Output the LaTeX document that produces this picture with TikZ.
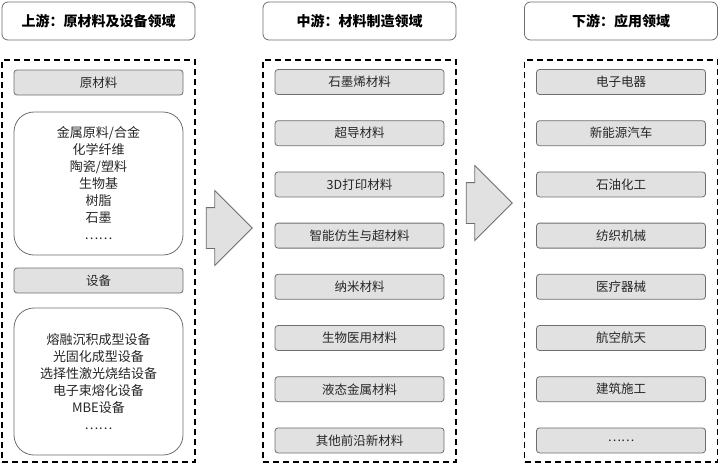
\documentclass[tikz,border=0pt]{standalone}
\usepackage{fontspec}
\setmainfont{Noto Sans CJK SC}
\usetikzlibrary{shapes.arrows,positioning}
\definecolor{boxgray}{RGB}{225,225,225}
\definecolor{linegray}{RGB}{110,110,110}
\tikzset{
  head/.style={draw=linegray, rounded corners=6pt, fill=white, thick, minimum width=193pt, minimum height=38pt, font=\fontsize{14}{16}\selectfont\bfseries},
  group/.style={draw, dash pattern=on 6pt off 4pt, very thick, minimum width=193pt, minimum height=402pt},
  item/.style={draw=linegray, rounded corners=3pt, fill=boxgray, thick, minimum width=169pt, minimum height=25pt, font=\fontsize{12.5}{14}\selectfont, text=black!85},
  list/.style={draw=linegray, rounded corners=20pt, fill=white, thick, minimum width=169pt, align=center, font=\fontsize{13}{17}\selectfont, text=black!85},
  flow/.style={single arrow, draw=linegray, fill=boxgray, thick, inner xsep=0pt, inner ysep=20pt, single arrow head extend=17pt, minimum height=46pt},
}
\begin{document}
\begin{tikzpicture}[x=1pt, y=-1pt]
  \useasboundingbox (0,0) rectangle (720,466);
  % headers
  \node[head] (up) at (98.5,21) {上游：原材料及设备领域};
  \node[head] (mid) at (359.5,21) {中游：材料制造领域};
  \node[head] (down) at (621,21) {下游：应用领域};
  % groups
  \node[group] (gup) at (98.5,261) {};
  \node[group] (gmid) at (359.5,261) {};
  \node[group] (gdown) at (621,261) {};
  % upstream
  \node[item] (raw) at (98.5,82.5) {原材料};
  \node[list, minimum height=143pt] (rawlist) at (98.5,183.5) {金属原料/合金\\化学纤维\\陶瓷/塑料\\生物基\\树脂\\石墨\\……};
  \node[item] (equip) at (98.5,280.5) {设备};
  \node[list, minimum height=147pt] (equiplist) at (98.5,381.5) {熔融沉积成型设备\\光固化成型设备\\选择性激光烧结设备\\电子束熔化设备\\MBE设备\\……};
  % midstream
  \foreach \t [count=\i from 0] in {石墨烯材料,超导材料,3D打印材料,智能仿生与超材料,纳米材料,生物医用材料,液态金属材料,其他前沿新材料}
    \node[item] (m\i) at (359.5,82+51.2*\i) {\t};
  % downstream
  \foreach \t [count=\i from 0] in {电子电器,新能源汽车,石油化工,纺织机械,医疗器械,航空航天,建筑施工,……}
    \node[item] (d\i) at (621,82+51.2*\i) {\t};
  % arrows
  \node[flow] (a1) at (219,228) {};
  \node[flow] (a2) at (479,203) {};
\end{tikzpicture}
\end{document}
